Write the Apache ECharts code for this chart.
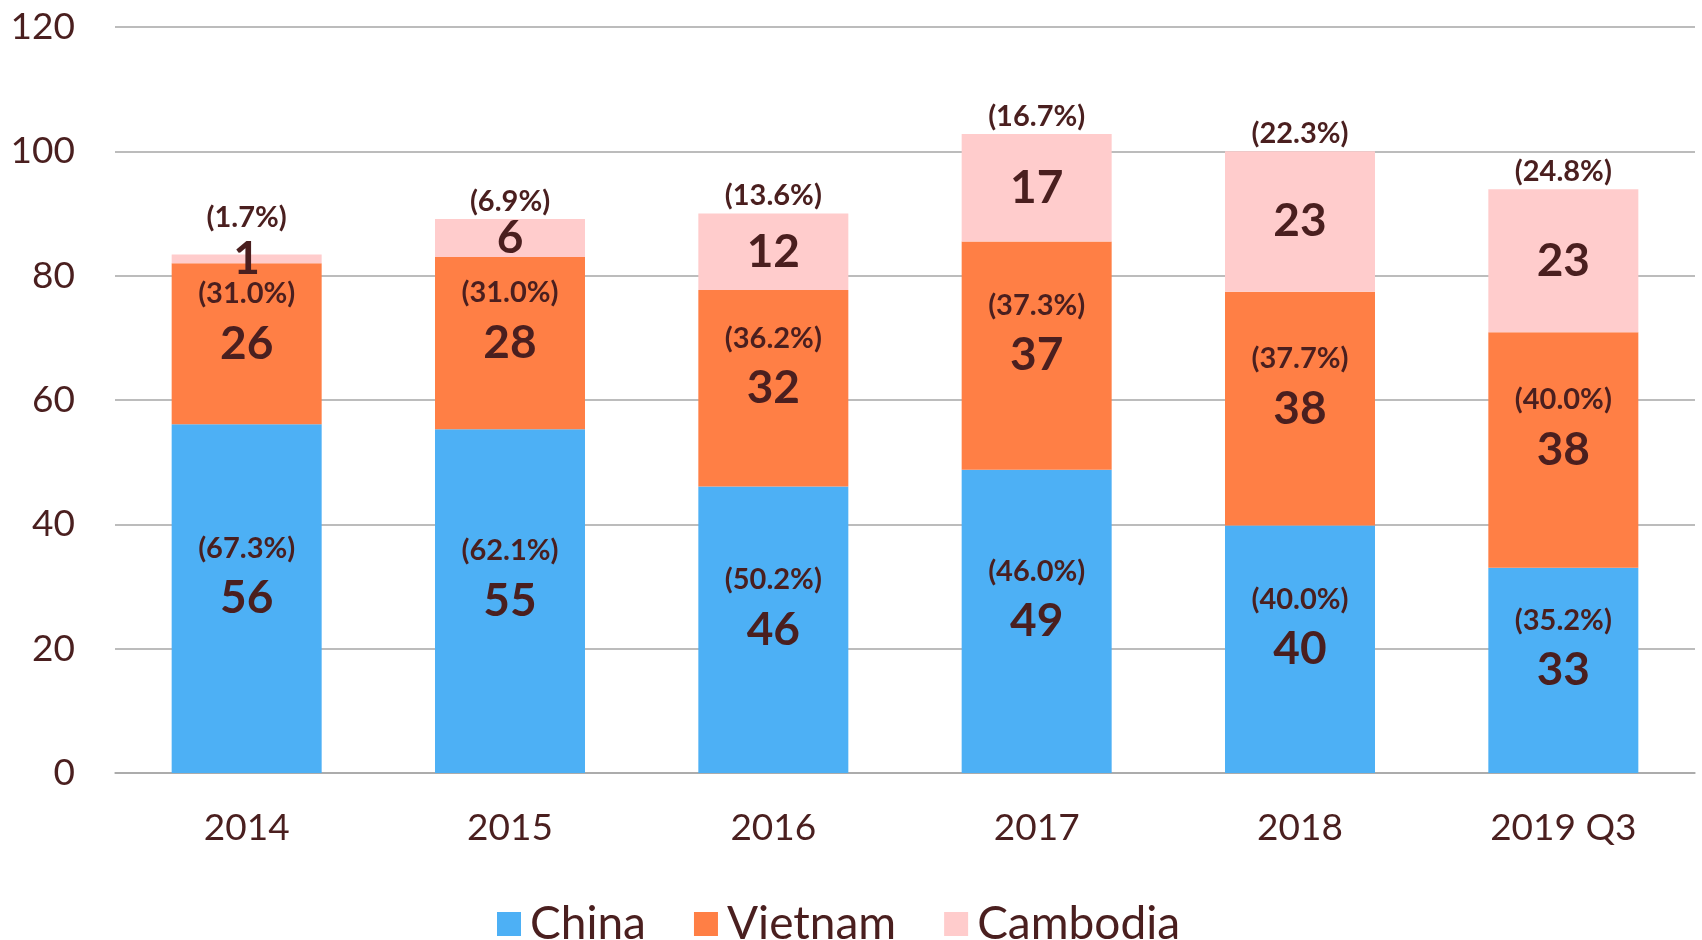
<!DOCTYPE html>
<html>
<head>
<meta charset="utf-8">
<script src="https://cdn.jsdelivr.net/npm/echarts@6/dist/echarts.min.js"></script>
<style>
  html, body { margin: 0; padding: 0; background: #fff; }
  #chart { width: 1702px; height: 940px; }
</style>
</head>
<body>
<div id="chart"></div>
<script>
var categories = ['2014', '2015', '2016', '2017', '2018', '2019 Q3'];
var china = [56.1, 55.3, 46.1, 48.8, 39.8, 33.0];
var vietnam = [25.9, 27.7, 31.6, 36.7, 37.6, 37.9];
var cambodia = [1.4, 6.1, 12.3, 17.3, 22.6, 23.0];
var chinaPct = ['67.3%', '62.1%', '50.2%', '46.0%', '40.0%', '35.2%'];
var vietnamPct = ['31.0%', '31.0%', '36.2%', '37.3%', '37.7%', '40.0%'];
var cambodiaPct = ['1.7%', '6.9%', '13.6%', '16.7%', '22.3%', '24.8%'];
var pctCarrier = [0, 0, 0, 0, 0, 0];

var textColor = '#4a1f1f';
var font = 'Lato, "Open Sans", sans-serif';

var ec = echarts.init(document.getElementById('chart'));

// percent above, value centred in the segment
function stackedLabel(pcts) {
    return {
        show: true,
        position: 'inside',
        formatter: function(p) {
            return '{p|(' + pcts[p.dataIndex] + ')}\n{v|' + Math.round(p.value) + '}\n{p| }';
        },
        rich: {
            p: { fontSize: 29, fontWeight: 'bold', color: textColor, fontFamily: font, height: 54, lineHeight: 54 },
            v: { fontSize: 46, fontWeight: 'bold', color: textColor, fontFamily: font, height: 46, lineHeight: 46 }
        }
    };
}

var option = {
    backgroundColor: '#fff',
    animation: false,
    grid: {
        left: 115,
        right: 7,
        top: 27,
        bottom: 167,
        containLabel: false
    },
    legend: {
        data: ['China', 'Vietnam', 'Cambodia'],
        left: 492,
        top: 896,
        itemWidth: 24,
        itemHeight: 24,
        itemGap: 48,
        icon: 'rect',
        textStyle: {
            color: textColor,
            fontSize: 46,
            fontFamily: font,
            padding: [0, 0, 0, 4]
        }
    },
    xAxis: {
        type: 'category',
        data: categories,
        axisTick: { show: false },
        axisLine: { lineStyle: { color: '#a6a6a6', width: 1.5 } },
        axisLabel: {
            color: textColor,
            fontSize: 37,
            fontFamily: font,
            margin: 37
        }
    },
    yAxis: {
        type: 'value',
        min: 0,
        max: 120,
        interval: 20,
        axisLine: { show: false },
        axisTick: { show: false },
        axisLabel: {
            color: textColor,
            fontSize: 37,
            fontFamily: font,
            margin: 40
        },
        splitLine: { lineStyle: { color: '#a6a6a6', width: 1.5 } }
    },
    series: [{
        name: 'China',
        type: 'bar',
        stack: 'total',
        barWidth: 150,
        itemStyle: { color: '#4db0f5' },
        label: stackedLabel(chinaPct),
        data: china
    }, {
        name: 'Vietnam',
        type: 'bar',
        stack: 'total',
        itemStyle: { color: '#ff7f45' },
        label: stackedLabel(vietnamPct),
        data: vietnam
    }, {
        name: 'Cambodia',
        type: 'bar',
        stack: 'total',
        itemStyle: { color: '#ffcccc' },
        label: {
            show: true,
            position: 'inside',
            fontSize: 46,
            fontWeight: 'bold',
            color: textColor,
            fontFamily: font,
            formatter: function(p) {
                return Math.round(p.value);
            }
        },
        data: cambodia
    }, {
        // carries the cambodia share above the bar top
        name: 'share',
        type: 'bar',
        stack: 'total',
        itemStyle: { color: 'transparent' },
        label: {
            show: true,
            position: 'top',
            distance: 3,
            fontSize: 29,
            fontWeight: 'bold',
            color: textColor,
            fontFamily: font,
            formatter: function(p) {
                return '(' + cambodiaPct[p.dataIndex] + ')';
            }
        },
        // first bar is too thin, lift its share clear of the value
        labelLayout: function(params) {
            if (params.dataIndex === 0) {
                return { dy: -19 };
            }
        },
        data: pctCarrier
    }]
};

ec.setOption(option);
</script>
</body>
</html>
